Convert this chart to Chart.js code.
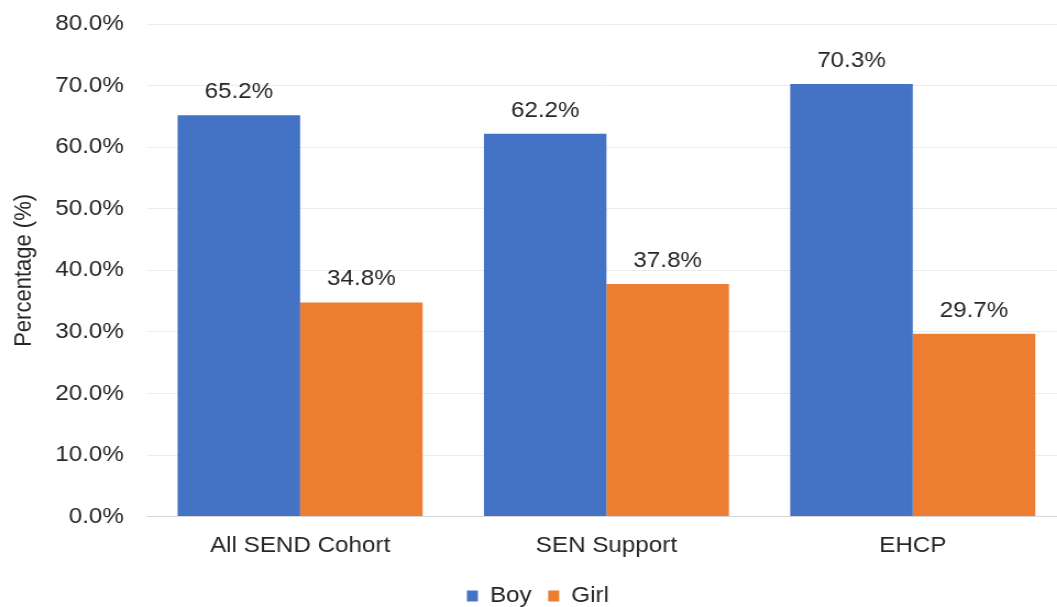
<!DOCTYPE html>
<html>
<head>
<meta charset="utf-8">
<script src="https://cdn.jsdelivr.net/npm/chart.js@4/dist/chart.umd.min.js"></script>
<style>
html,body{margin:0;padding:0;background:#fff;overflow:hidden;}
#wrap{width:1057px;height:607px;overflow:hidden;position:relative;}
#c{position:absolute;left:0;top:-10px;transform:scaleX(1.1);transform-origin:0 0;}
</style>
</head>
<body>
<div id="wrap"><canvas id="c" width="969" height="627"></canvas></div>
<script>
const categories = ["All SEND Cohort", "SEN Support", "EHCP"];
const boyValues = [65.2, 62.2, 70.3];
const girlValues = [34.8, 37.8, 29.7];
const seriesNames = ["Boy", "Girl"];

const FONT = "'Liberation Sans', Arial, sans-serif";
const TEXT = "#262626";
const FS = 22;

const valueLabels = {
  id: "valueLabels",
  afterDatasetsDraw(chart) {
    const ctx = chart.ctx;
    ctx.save();
    ctx.font = FS + "px " + FONT;
    ctx.fillStyle = TEXT;
    ctx.textAlign = "center";
    ctx.textBaseline = "middle";
    chart.data.datasets.forEach((ds, i) => {
      const meta = chart.getDatasetMeta(i);
      meta.data.forEach((bar, j) => {
        ctx.fillText(ds.data[j].toFixed(1) + "%", bar.x, bar.y - 23);
      });
    });
    ctx.restore();
  }
};

new Chart(document.getElementById("c"), {
  type: "bar",
  data: {
    labels: categories,
    datasets: [
      { label: seriesNames[0], data: boyValues, backgroundColor: "#4472C4" },
      { label: seriesNames[1], data: girlValues, backgroundColor: "#ED7D31" }
    ]
  },
  options: {
    responsive: false,
    animation: false,
    layout: { padding: { top: 5, right: 0, left: 9, bottom: 0 } },
    datasets: { bar: { categoryPercentage: 0.80, barPercentage: 1.0 } },
    scales: {
      x: {
        grid: { display: false, drawTicks: false },
        border: { display: true, color: "#d9d9d9", width: 1 },
        afterFit: axis => { axis.height -= 5; },
        ticks: { color: TEXT, font: { size: FS, family: FONT }, padding: 16 }
      },
      y: {
        min: 0, max: 80,
        grid: { color: "#ebebeb", drawTicks: false },
        border: { display: false },
        afterFit: axis => { axis.width = 124.6; },
        ticks: {
          stepSize: 10,
          color: TEXT,
          font: { size: FS, family: FONT },
          padding: 21,
          callback: v => v.toFixed(1) + "%"
        },
        title: { display: true, text: "Percentage (%)", color: TEXT, font: { size: FS, family: FONT }, padding: { top: 0, bottom: 10 } }
      }
    },
    plugins: {
      legend: {
        position: "bottom",
        labels: { color: TEXT, font: { size: FS, family: FONT }, boxWidth: 10, boxHeight: 11, padding: 15 }
      },
      tooltip: { enabled: false }
    }
  },
  plugins: [valueLabels]
});
</script>
</body>
</html>
